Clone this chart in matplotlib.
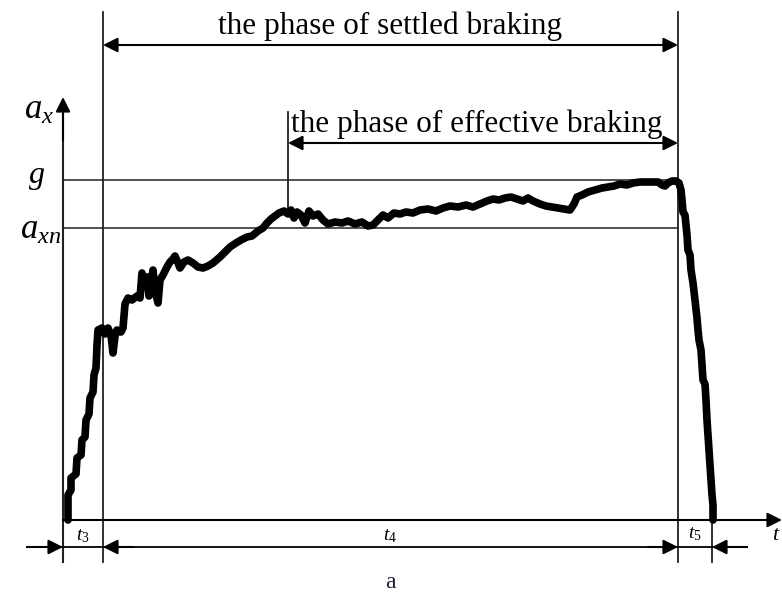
import matplotlib
matplotlib.use('Agg')
import matplotlib.pyplot as plt

plt.rcParams['font.family'] = 'Liberation Serif'
plt.rcParams['mathtext.fontset'] = 'custom'
plt.rcParams['mathtext.it'] = 'Liberation Serif:italic'
plt.rcParams['mathtext.rm'] = 'Liberation Serif'

# braking deceleration record: (t, a_x) pairs
trace = [
    (5, 0), (5, 25), (8, 30), (8, 42), (13, 46), (14, 62), (18, 65), (19, 80), (22, 83), (23, 100),
    (26, 106), (27, 122), (30, 128), (31, 145), (33, 152), (34, 175), (35, 190), (39, 192), (42, 186), (45, 192),
    (48, 185), (50, 167), (52, 184), (54, 190), (58, 188), (60, 192), (62, 216), (65, 222), (69, 220), (74, 224),
    (77, 222), (79, 247), (82, 235), (84, 243), (86, 224), (88, 238), (90, 250), (92, 230), (95, 217), (97, 240),
    (100, 245), (104, 253), (107, 258), (110, 261), (112, 264), (115, 257), (117, 252), (121, 258), (125, 260), (130, 257),
    (135, 253), (140, 252), (145, 254), (150, 257), (157, 263), (163, 269), (167, 273), (173, 277), (178, 280), (184, 283),
    (189, 284), (195, 289), (200, 292), (204, 297), (208, 301), (212, 304), (216, 307), (221, 309), (225, 306), (228, 310),
    (231, 302), (234, 308), (238, 305), (242, 297), (246, 309), (250, 304), (255, 306), (260, 300), (265, 296), (272, 298),
    (279, 297), (285, 299), (292, 296), (299, 298), (305, 294), (310, 295), (315, 300), (320, 305), (325, 302), (331, 307),
    (337, 306), (343, 308), (350, 307), (357, 310), (365, 311), (373, 309), (380, 312), (387, 314), (395, 313), (403, 315),
    (410, 313), (417, 316), (424, 319), (430, 321), (436, 320), (442, 322), (448, 323), (454, 321), (460, 319), (465, 322),
    (470, 319), (477, 316), (483, 314), (489, 313), (495, 312), (501, 311), (507, 310), (511, 316), (514, 323), (519, 325),
    (525, 328), (532, 330), (539, 332), (545, 333), (551, 334), (557, 336), (564, 335), (570, 337), (577, 338), (584, 338),
    (590, 338), (595, 338), (599, 335), (602, 334), (605, 337), (609, 339), (613, 339), (616, 337), (618, 330), (619, 320),
    (620, 308), (622, 305), (624, 285), (625, 270), (627, 265), (628, 250), (630, 237), (632, 220), (634, 202), (635, 190),
    (636, 180), (638, 170), (639, 155), (640, 140), (642, 136), (643, 120), (644, 100), (645, 85), (646, 70), (647, 55),
    (648, 40), (649, 25), (650, 15), (650, 0),
]
t_vals = [p[0] for p in trace]
a_vals = [p[1] for p in trace]

g_level = 340
axn_level = 292
t3_end = 40
t4_end = 615
t5_end = 649
eff_start = 225

fig = plt.figure(figsize=(7.82, 5.98), dpi=100)
ax = fig.add_axes([0, 0, 1, 1])
ax.set_xlim(-63, 719)
ax.set_ylim(-78, 520)
ax.axis('off')

ax.plot(t_vals, a_vals, color='black', lw=5.5, solid_joinstyle='round', solid_capstyle='round', zorder=5)

# guide lines
ax.plot([0, t4_end], [g_level, g_level], color='#333333', lw=1.2)
ax.plot([0, t4_end], [axn_level, axn_level], color='#333333', lw=1.2)
for tv, top in [(t3_end, 508), (t4_end, 508), (t5_end, 0)]:
    ax.plot([tv, tv], [-42, top], color='#222222', lw=1.3)
ax.plot([0, 0], [-42, 415], color='#222222', lw=1.5)
ax.plot([eff_start, eff_start], [307, 408], color='#222222', lw=1.3)

arr = dict(arrowstyle='-|>', color='black', lw=1.5, mutation_scale=22, shrinkA=0, shrinkB=0)
dbl = dict(arrowstyle='<|-|>', color='black', lw=1.5, mutation_scale=22, shrinkA=0, shrinkB=0)

# axes arrows
ax.annotate('', xy=(0, 423), xytext=(0, 380), arrowprops=arr)
ax.annotate('', xy=(719, 0), xytext=(0, 0), arrowprops=arr)

# phase arrows
ax.annotate('', xy=(t3_end, 475), xytext=(t4_end, 475), arrowprops=dbl)
ax.annotate('', xy=(eff_start, 377), xytext=(t4_end, 377), arrowprops=dbl)
ax.text(327, 494, 'the phase of settled braking', ha='center', va='center', fontsize=22.5)
ax.text(eff_start + 3, 396, 'the phase of effective braking', ha='left', va='center', fontsize=22.5)

# dimension row
ax.plot([-36, 684], [-27, -27], color='black', lw=1.3)
ax.annotate('', xy=(0, -27), xytext=(-36, -27), arrowprops=arr)
ax.annotate('', xy=(t3_end, -27), xytext=(t3_end + 30, -27), arrowprops=arr)
ax.annotate('', xy=(t4_end, -27), xytext=(t4_end - 30, -27), arrowprops=arr)
ax.annotate('', xy=(t5_end, -27), xytext=(684, -27), arrowprops=arr)

ax.text(t3_end / 2, -16, r'$t_3$', ha='center', va='center', fontsize=14)
ax.text((t3_end + t4_end) / 2, -16, r'$t_4$', ha='center', va='center', fontsize=14)
ax.text((t4_end + t5_end) / 2, -14, r'$t_5$', ha='center', va='center', fontsize=14)
ax.text(718, -16, r'$t$', ha='right', va='center', fontsize=16)

# y labels
ax.text(-24, 410, r'$a_x$', ha='center', va='center', fontsize=25)
ax.text(-26, 342, r'$g$', ha='center', va='center', fontsize=23)
ax.text(-22, 290, r'$a_{xn}$', ha='center', va='center', fontsize=25)

ax.text(327, -63, 'a', ha='center', va='center', fontsize=17, color='#1a1a33')

fig.savefig('out.png', dpi=100)
